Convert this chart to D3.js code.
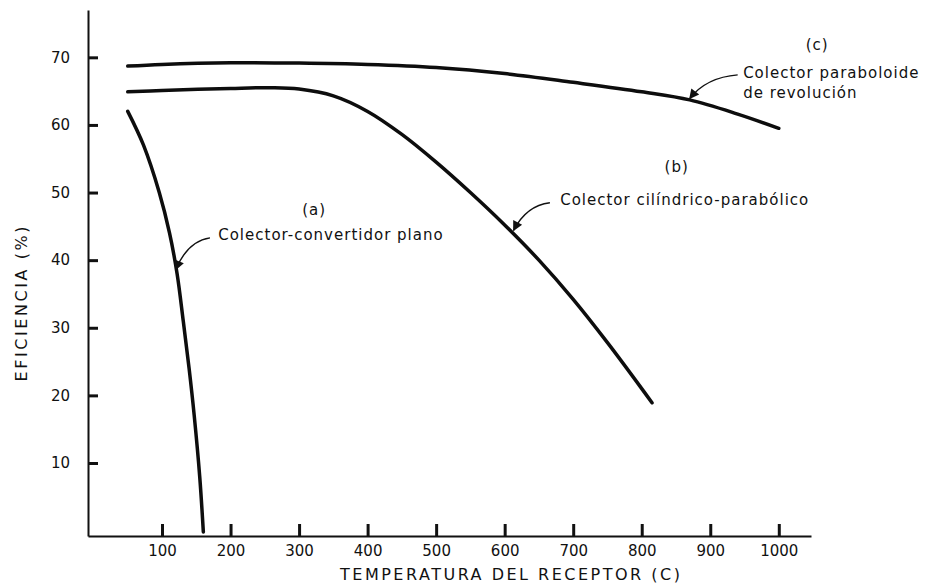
<!DOCTYPE html>
<html>
<head>
<meta charset="utf-8">
<script src="https://cdn.jsdelivr.net/npm/d3@7"></script>
<style>
  body { margin: 0; background: #fff; }
  svg text { font-family: "DejaVu Sans", sans-serif; fill: #111; }
</style>
</head>
<body>
<div id="chart"></div>
<script>
// temperatura (C) vs eficiencia (%)
const planoT   = [50, 73, 96, 111, 122, 131, 139.5, 147, 155, 160.3];
const planoEff = [62, 57, 50, 44, 38, 31, 24, 17, 8, -0.2];

const cilT   = [50, 100, 200, 260, 300, 350, 400, 450, 500, 550, 600, 650, 700, 750, 800, 815];
const cilEff = [64.9, 65.1, 65.4, 65.5, 65.3, 64.3, 62, 58.6, 54.5, 50.0, 45.2, 40.0, 34.2, 27.8, 21.0, 18.9];

const revT   = [50, 100, 200, 300, 400, 500, 600, 700, 800, 870, 940, 1000];
const revEff = [68.7, 68.95, 69.2, 69.15, 68.95, 68.5, 67.6, 66.3, 64.9, 63.7, 61.6, 59.5];

const xTicks = [100, 200, 300, 400, 500, 600, 700, 800, 900, 1000];
const yTicks = [10, 20, 30, 40, 50, 60, 70];

const xTitle = "TEMPERATURA DEL RECEPTOR (C)";
const yTitle = "EFICIENCIA (%)";

// annotations: tag, text lines, where the text sits and where the arrow points (data units)
const notes = [
  {tag: "(a)", lines: ["Colector-convertidor plano"], tagAt: [322, 46.7], textAt: [182, 43.0], from: [170, 43.3], to: [120, 38.6]},
  {tag: "(b)", lines: ["Colector cilíndrico-parabólico"], tagAt: [851, 53.0], textAt: [681, 48.2], from: [666, 48.5], to: [613, 44.4]},
  {tag: "(c)", lines: ["Colector paraboloide", "de revolución"], tagAt: [1056, 71.1], textAt: [948, 66.9], from: [940, 67.4], to: [870, 63.9]}
];

const W = 939, H = 584;
const margin = {top: 10, right: 128, bottom: 48, left: 88};

const svg = d3.select("#chart").append("svg")
  .attr("width", W)
  .attr("height", H);

const x = d3.scaleLinear()
  .domain([-8, 1047])
  .range([margin.left, W - margin.right]);

const y = d3.scaleLinear()
  .domain([-0.8, 77])
  .range([H - margin.bottom, margin.top]);

// axes
const xAxis = svg.append("g")
  .attr("transform", `translate(0,${y(-0.8)})`)
  .call(d3.axisBottom(x).tickValues(xTicks).tickFormat(d3.format("d"))
    .tickSizeInner(-12).tickSizeOuter(0).tickPadding(9));
xAxis.select(".domain").attr("stroke", "#111").attr("stroke-width", 2);
xAxis.selectAll(".tick line").attr("stroke", "#111").attr("stroke-width", 3);
xAxis.selectAll(".tick text").attr("font-size", 15).attr("font-family", "DejaVu Sans").attr("fill", "#111");

const yAxis = svg.append("g")
  .attr("transform", `translate(${x(-8)},0)`)
  .call(d3.axisLeft(y).tickValues(yTicks).tickSizeInner(-10).tickSizeOuter(0).tickPadding(18));
yAxis.select(".domain").attr("stroke", "#111").attr("stroke-width", 2);
yAxis.selectAll(".tick line").attr("stroke", "#111").attr("stroke-width", 3);
yAxis.selectAll(".tick text").attr("font-size", 15).attr("font-family", "DejaVu Sans").attr("fill", "#111");

svg.append("text")
  .attr("x", 510)
  .attr("y", 580)
  .attr("text-anchor", "middle")
  .attr("font-size", 16)
  .attr("textLength", 340)
  .attr("lengthAdjust", "spacing")
  .text(xTitle);

svg.append("text")
  .attr("transform", "translate(27,304) rotate(-90)")
  .attr("text-anchor", "middle")
  .attr("font-size", 16)
  .attr("textLength", 155)
  .attr("lengthAdjust", "spacing")
  .text(yTitle);

// curves
const line = d3.line()
  .x(d => x(d[0]))
  .y(d => y(d[1]))
  .curve(d3.curveCatmullRom.alpha(0.5));

const series = [
  d3.zip(planoT, planoEff),
  d3.zip(cilT, cilEff),
  d3.zip(revT, revEff)
];

svg.selectAll(".curve")
  .data(series)
  .enter()
  .append("path")
  .attr("class", "curve")
  .attr("d", line)
  .attr("fill", "none")
  .attr("stroke", "#0d0d0d")
  .attr("stroke-width", 3.5)
  .attr("stroke-linecap", "round");

// arrow head
svg.append("defs").append("marker")
  .attr("id", "head")
  .attr("viewBox", "0 0 10 10")
  .attr("refX", 9)
  .attr("refY", 5)
  .attr("markerWidth", 13)
  .attr("markerHeight", 10)
  .attr("markerUnits", "userSpaceOnUse")
  .attr("orient", "auto")
  .append("path")
  .attr("d", "M0,0L10,5L0,10z")
  .attr("fill", "#111");

notes.forEach(n => {
  const sx = x(n.from[0]), sy = y(n.from[1]);
  const tx = x(n.to[0]), ty = y(n.to[1]);
  const p = d3.path();
  p.moveTo(sx, sy);
  p.quadraticCurveTo(tx + (sx - tx) * 0.35, sy + (ty - sy) * 0.1, tx, ty);
  svg.append("path")
    .attr("d", p.toString())
    .attr("fill", "none")
    .attr("stroke", "#111")
    .attr("stroke-width", 1.4)
    .attr("marker-end", "url(#head)");

  svg.append("text")
    .attr("x", x(n.tagAt[0]))
    .attr("y", y(n.tagAt[1]))
    .attr("text-anchor", "middle")
    .attr("font-size", 15)
    .attr("letter-spacing", 1)
    .text(n.tag);

  n.lines.forEach((t, i) => {
    svg.append("text")
      .attr("x", x(n.textAt[0]))
      .attr("y", y(n.textAt[1]) + i * 20)
      .attr("font-size", 15)
      .attr("letter-spacing", 1)
      .text(t);
  });
});
</script>
</body>
</html>
